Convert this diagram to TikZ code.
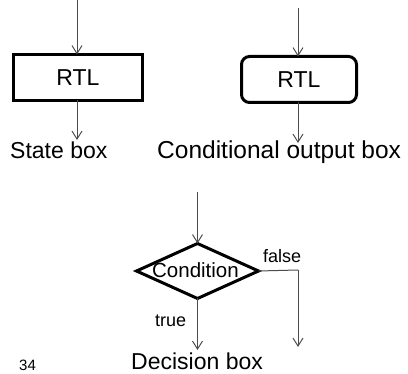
\documentclass[tikz,border=0pt]{standalone}
\usepackage{fontspec}
\setmainfont{Liberation Sans}
\usetikzlibrary{arrows.meta,shapes.geometric}
\begin{document}
\begin{tikzpicture}[x=1pt,y=-1pt,
  flow/.style={draw=black!70,line width=1pt,-{Straight Barb[length=8pt,width=10pt]}},
  plain/.style={draw=black!70,line width=1pt},
  boxstyle/.style={draw=black,line width=3pt,inner sep=0pt,outer sep=0pt,
    minimum height=46pt,font=\fontsize{23}{27}\selectfont},
  caption/.style={inner sep=0pt,font=\fontsize{23}{27}\selectfont},
  small/.style={inner sep=0pt,font=\fontsize{18}{21}\selectfont}]
\useasboundingbox (0,0) rectangle (408,374);

% state box
\node[boxstyle,minimum width=129pt] (state) at (78,77.5) {RTL};
\coordinate (stin) at (77,0);
\coordinate (stout) at (77,140);
\draw[flow] (stin) -- (state.north -| stin);
\draw[flow] (state.south -| stout) -- (stout);
\node[caption,anchor=base west] (statecap) at (10,159) {State box};

% conditional output box
\node[boxstyle,minimum width=115pt,rounded corners=8pt] (cob) at (299,79.5) {RTL};
\coordinate (cin) at (298,8);
\coordinate (cout) at (298,143);
\draw[flow] (cin) -- (cob.north -| cin);
\draw[flow] (cob.south -| cout) -- (cout);
\node[caption,anchor=base west,font=\fontsize{24.5}{28}\selectfont] (cobcap) at (157,159) {Conditional output box};

% decision box
\node[diamond,draw=black,line width=3pt,inner sep=0pt,outer sep=0pt,
  minimum width=122pt,minimum height=55pt] (dec) at (197.5,271) {};
\node[inner sep=0pt,anchor=base,font=\fontsize{20.5}{24}\selectfont] (cond) at (195.5,277.5) {Condition};
\coordinate (din) at (197.5,192);
\coordinate (dtrue) at (197.5,350);
\coordinate (fcorner) at (298,270);
\coordinate (dfalse) at (298,347);
\draw[flow] (din) -- (dec.north);
\draw[flow] (dec.south) -- (dtrue);
\draw[plain] (dec.east) -- (fcorner);
\draw[flow] (fcorner) -- (dfalse);
\node[small,anchor=base west] (flab) at (263,263) {false};
\node[small,anchor=base west] (tlab) at (155,327) {true};
\node[caption,anchor=base west] (deccap) at (131,370) {Decision box};

% page number
\node[inner sep=0pt,anchor=base west,font=\fontsize{15}{18}\selectfont] (pg) at (19,371) {34};
\end{tikzpicture}
\end{document}
